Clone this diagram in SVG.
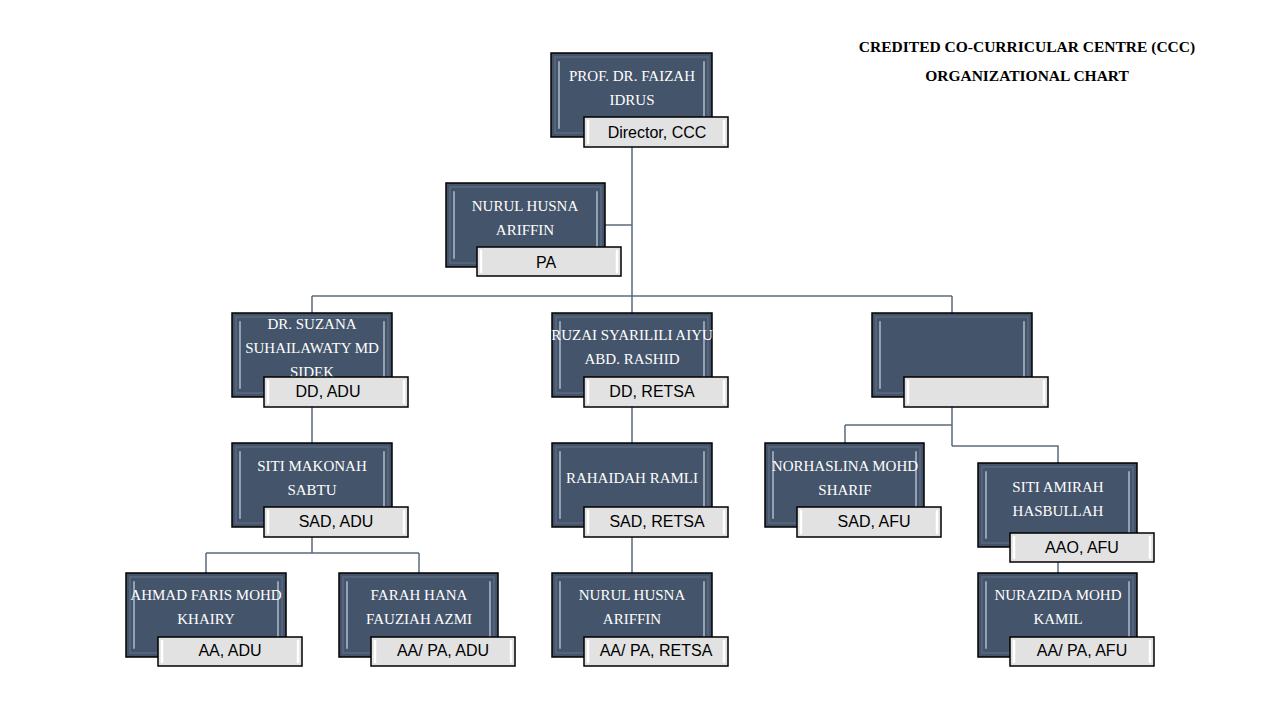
<svg xmlns="http://www.w3.org/2000/svg" width="1280" height="720" viewBox="0 0 1280 720">
<defs>
<style>
.box{fill:#44546a;stroke:#000;stroke-width:1.5}
.bin{fill:none;stroke:#5f6f84;stroke-width:1.2}
.hl{stroke:#b4c0d2;stroke-width:1.8;stroke-linecap:round;opacity:0.8}
.lab{fill:#e2e2e2;stroke:#000;stroke-width:1.5}
.lhl{stroke:#ffffff;stroke-width:2.5;stroke-linecap:round}
.name{font-family:"Liberation Serif",serif;font-size:15px;fill:#fff;text-anchor:middle}
.role{font-family:"Liberation Sans",Arial,sans-serif;font-size:16px;fill:#000;text-anchor:middle}
.title{font-family:"Liberation Serif",serif;font-size:15.5px;font-weight:bold;fill:#000;text-anchor:middle}
.con{fill:none;stroke:#5b6b7d;stroke-width:1.5}
</style>
</defs>
<rect width="1280" height="720" fill="#fff"/>

<g id="title">
<text class="title" x="1027" y="52">CREDITED CO-CURRICULAR CENTRE (CCC)</text>
<text class="title" x="1027" y="81">ORGANIZATIONAL CHART</text>
</g>

<g id="connectors">
<path class="con" d="M632 147V297M605 225H632M312 296H952M312 296V313M632 296V313M952 296V313"/>
<path class="con" d="M312 407V443M312 537V553M206 553H419M206 553V573M419 553V573"/>
<path class="con" d="M632 407V443M632 537V573"/>
<path class="con" d="M952 407V446M845 425H952M845 425V443M952 446H1058V463M1058 562V573"/>
</g>

<g id="n-director">
<rect class="box" x="551" y="53" width="161" height="84"/>
<rect class="bin" x="555" y="57" width="153" height="76"/>
<path class="hl" d="M559 62V128M704 62V128"/>
<text class="name" x="632" y="81">PROF. DR. FAIZAH</text>
<text class="name" x="632" y="105">IDRUS</text>
<rect class="lab" x="584" y="117" width="144" height="30"/>
<path class="lhl" d="M588 121V143M724 121V143"/>
<text class="role" x="657" y="138">Director, CCC</text>
</g>

<g id="n-pa">
<rect class="box" x="446" y="183" width="159" height="84"/>
<rect class="bin" x="450" y="187" width="151" height="76"/>
<path class="hl" d="M454 192V258M597 192V258"/>
<text class="name" x="525" y="211">NURUL HUSNA</text>
<text class="name" x="525" y="235">ARIFFIN</text>
<rect class="lab" x="477" y="247" width="144" height="29"/>
<path class="lhl" d="M481 251V272M617 251V272"/>
<text class="role" x="546" y="268">PA</text>
</g>

<g id="n-dd-adu">
<rect class="box" x="232" y="313" width="160" height="84"/>
<rect class="bin" x="236" y="317" width="152" height="76"/>
<path class="hl" d="M240 322V388M384 322V388"/>
<text class="name" x="312" y="329">DR. SUZANA</text>
<text class="name" x="312" y="353">SUHAILAWATY MD</text>
<text class="name" x="312" y="377">SIDEK</text>
<rect class="lab" x="264" y="377" width="144" height="30"/>
<path class="lhl" d="M268 381V403M404 381V403"/>
<text class="role" x="328" y="397">DD, ADU</text>
</g>

<g id="n-dd-retsa">
<rect class="box" x="552" y="313" width="160" height="84"/>
<rect class="bin" x="556" y="317" width="152" height="76"/>
<path class="hl" d="M560 322V388M704 322V388"/>
<text class="name" x="632" y="340">RUZAI SYARILILI AIYU</text>
<text class="name" x="632" y="364">ABD. RASHID</text>
<rect class="lab" x="584" y="377" width="144" height="30"/>
<path class="lhl" d="M588 381V403M724 381V403"/>
<text class="role" x="652" y="397">DD, RETSA</text>
</g>

<g id="n-vacant">
<rect class="box" x="872" y="313" width="160" height="84"/>
<rect class="bin" x="876" y="317" width="152" height="76"/>
<path class="hl" d="M880 322V388M1024 322V388"/>
<rect class="lab" x="904" y="377" width="144" height="30"/>
<path class="lhl" d="M908 381V403M1044 381V403"/>
</g>

<g id="n-sad-adu">
<rect class="box" x="232" y="443" width="160" height="84"/>
<rect class="bin" x="236" y="447" width="152" height="76"/>
<path class="hl" d="M240 452V518M384 452V518"/>
<text class="name" x="312" y="471">SITI MAKONAH</text>
<text class="name" x="312" y="495">SABTU</text>
<rect class="lab" x="264" y="507" width="144" height="30"/>
<path class="lhl" d="M268 511V533M404 511V533"/>
<text class="role" x="336" y="527">SAD, ADU</text>
</g>

<g id="n-sad-retsa">
<rect class="box" x="552" y="443" width="160" height="84"/>
<rect class="bin" x="556" y="447" width="152" height="76"/>
<path class="hl" d="M560 452V518M704 452V518"/>
<text class="name" x="632" y="483">RAHAIDAH RAMLI</text>
<rect class="lab" x="584" y="507" width="144" height="30"/>
<path class="lhl" d="M588 511V533M724 511V533"/>
<text class="role" x="657" y="527">SAD, RETSA</text>
</g>

<g id="n-sad-afu">
<rect class="box" x="765" y="443" width="159" height="84"/>
<rect class="bin" x="769" y="447" width="151" height="76"/>
<path class="hl" d="M773 452V518M916 452V518"/>
<text class="name" x="845" y="471">NORHASLINA MOHD</text>
<text class="name" x="845" y="495">SHARIF</text>
<rect class="lab" x="797" y="507" width="144" height="30"/>
<path class="lhl" d="M801 511V533M937 511V533"/>
<text class="role" x="874" y="527">SAD, AFU</text>
</g>

<g id="n-aao-afu">
<rect class="box" x="978" y="463" width="159" height="84"/>
<rect class="bin" x="982" y="467" width="151" height="76"/>
<path class="hl" d="M986 472V538M1129 472V538"/>
<text class="name" x="1058" y="492">SITI AMIRAH</text>
<text class="name" x="1058" y="516">HASBULLAH</text>
<rect class="lab" x="1010" y="533" width="144" height="29"/>
<path class="lhl" d="M1014 537V558M1150 537V558"/>
<text class="role" x="1082" y="553">AAO, AFU</text>
</g>

<g id="n-aa-adu">
<rect class="box" x="126" y="573" width="160" height="84"/>
<rect class="bin" x="130" y="577" width="152" height="76"/>
<path class="hl" d="M134 582V648M278 582V648"/>
<text class="name" x="206" y="600">AHMAD FARIS MOHD</text>
<text class="name" x="206" y="624">KHAIRY</text>
<rect class="lab" x="158" y="637" width="144" height="29"/>
<path class="lhl" d="M162 641V662M298 641V662"/>
<text class="role" x="230" y="656">AA, ADU</text>
</g>

<g id="n-aapa-adu">
<rect class="box" x="339" y="573" width="159" height="84"/>
<rect class="bin" x="343" y="577" width="151" height="76"/>
<path class="hl" d="M347 582V648M490 582V648"/>
<text class="name" x="419" y="600">FARAH HANA</text>
<text class="name" x="419" y="624">FAUZIAH AZMI</text>
<rect class="lab" x="371" y="637" width="144" height="29"/>
<path class="lhl" d="M375 641V662M511 641V662"/>
<text class="role" x="443" y="656">AA/ PA, ADU</text>
</g>

<g id="n-aapa-retsa">
<rect class="box" x="552" y="573" width="160" height="84"/>
<rect class="bin" x="556" y="577" width="152" height="76"/>
<path class="hl" d="M560 582V648M704 582V648"/>
<text class="name" x="632" y="600">NURUL HUSNA</text>
<text class="name" x="632" y="624">ARIFFIN</text>
<rect class="lab" x="584" y="637" width="144" height="29"/>
<path class="lhl" d="M588 641V662M724 641V662"/>
<text class="role" x="656" y="656">AA/ PA, RETSA</text>
</g>

<g id="n-aapa-afu">
<rect class="box" x="978" y="573" width="159" height="84"/>
<rect class="bin" x="982" y="577" width="151" height="76"/>
<path class="hl" d="M986 582V648M1129 582V648"/>
<text class="name" x="1058" y="600">NURAZIDA MOHD</text>
<text class="name" x="1058" y="624">KAMIL</text>
<rect class="lab" x="1010" y="637" width="144" height="29"/>
<path class="lhl" d="M1014 641V662M1150 641V662"/>
<text class="role" x="1082" y="656">AA/ PA, AFU</text>
</g>
</svg>
